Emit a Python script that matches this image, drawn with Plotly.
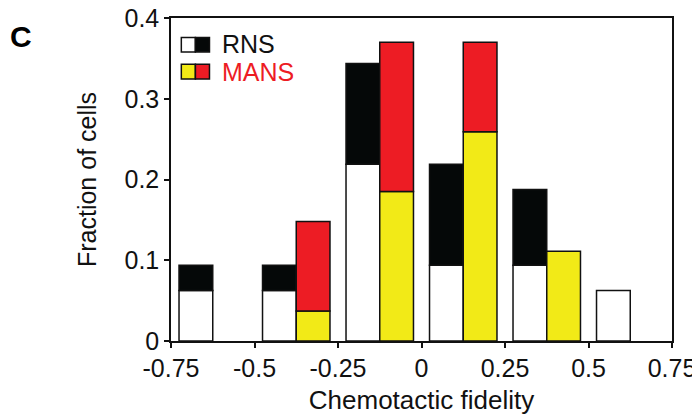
import plotly.graph_objects as go

# Bin centres of chemotactic fidelity histogram
bin_centers = [-0.625, -0.375, -0.125, 0.125, 0.375, 0.625]

# RNS: white (bottom) and black (top) segments
rns_bottom = [0.0625, 0.0625, 0.21875, 0.09375, 0.09375, 0.0625]
rns_top = [0.03125, 0.03125, 0.125, 0.125, 0.09375, 0.0]

# MANS: yellow (bottom) and red (top) segments
mans_bottom = [0.0, 0.037, 0.185, 0.259, 0.111, 0.0]
mans_top = [0.0, 0.111, 0.185, 0.111, 0.0, 0.0]

x_tickvals = [-0.75, -0.5, -0.25, 0, 0.25, 0.5, 0.75]
x_ticktext = ["-0.75", "-0.5", "-0.25", "0", "0.25", "0.5", "0.75"]
y_tickvals = [0, 0.1, 0.2, 0.3, 0.4]
y_ticktext = ["0", "0.1", "0.2", "0.3", "0.4"]

WHITE = "#FFFFFF"
BLACK = "#050808"
YELLOW = "#F2EA17"
RED = "#ED1C24"
FONT = "Liberation Sans, Arial, sans-serif"

line = dict(color="#111111", width=1.5)


def nz(vals):
    return [v if v else None for v in vals]


fig = go.Figure()
fig.add_trace(go.Bar(x=bin_centers, y=nz(rns_bottom), offsetgroup="RNS",
                     marker=dict(color=WHITE, line=line), showlegend=False))
fig.add_trace(go.Bar(x=bin_centers, y=nz(rns_top), base=rns_bottom, offsetgroup="RNS",
                     marker=dict(color=BLACK, line=line), showlegend=False))
fig.add_trace(go.Bar(x=bin_centers, y=nz(mans_bottom), offsetgroup="MANS",
                     marker=dict(color=YELLOW, line=line), showlegend=False))
fig.add_trace(go.Bar(x=bin_centers, y=nz(mans_top), base=mans_bottom, offsetgroup="MANS",
                     marker=dict(color=RED, line=line), showlegend=False))

# Custom legend swatches (paper coordinates)
sw = dict(type="rect", xref="paper", yref="paper", line=dict(color="#111111", width=1.5))
fig.add_shape(**sw, x0=0.0206, x1=0.0487, y0=0.895, y1=0.940, fillcolor=WHITE)
fig.add_shape(**sw, x0=0.0487, x1=0.0768, y0=0.895, y1=0.940, fillcolor=BLACK)
fig.add_shape(**sw, x0=0.0206, x1=0.0487, y0=0.811, y1=0.857, fillcolor=YELLOW)
fig.add_shape(**sw, x0=0.0487, x1=0.0768, y0=0.811, y1=0.857, fillcolor=RED)

fig.add_annotation(x=0.0988, y=0.918, xref="paper", yref="paper", text="RNS",
                   showarrow=False, xanchor="left", yanchor="middle",
                   font=dict(family=FONT, size=25, color="#111111"))
fig.add_annotation(x=0.0988, y=0.834, xref="paper", yref="paper", text="MANS",
                   showarrow=False, xanchor="left", yanchor="middle",
                   font=dict(family=FONT, size=25, color=RED))

# Panel letter
fig.add_annotation(x=-0.325, y=0.942, xref="paper", yref="paper", text="<b>C</b>",
                   showarrow=False, xanchor="left", yanchor="middle",
                   font=dict(family=FONT, size=30, color="#000000"))

fig.update_layout(
    width=700, height=415,
    margin=dict(l=163, r=36, t=10, b=82, autoexpand=False),
    paper_bgcolor="white", plot_bgcolor="white",
    barmode="group", bargap=0.192, bargroupgap=0,
    font=dict(family=FONT, size=25, color="#111111"),
    hovermode=False,
)
fig.update_xaxes(
    range=[-0.75, 0.75], tickvals=x_tickvals, ticktext=x_ticktext, automargin=False,
    showgrid=False, zeroline=False, showline=True, linecolor="#111111", linewidth=1.5,
    mirror=True, ticks="outside", ticklen=5, tickwidth=1.5, tickcolor="#111111",
    ticklabelstandoff=-1, ticklabeloverflow="allow",
    title=dict(text="Chemotactic fidelity", standoff=10, font=dict(size=26)),
    tickfont=dict(size=25),
)
fig.update_yaxes(
    range=[0, 0.4], tickvals=y_tickvals, ticktext=y_ticktext, automargin=False,
    showgrid=False, zeroline=False, showline=True, linecolor="#111111", linewidth=1.5,
    mirror=True, ticks="outside", ticklen=5, tickwidth=1.5, tickcolor="#111111",
    ticklabelstandoff=0, ticklabeloverflow="allow",
    title=dict(text="Fraction of cells", standoff=21, font=dict(size=25)),
    tickfont=dict(size=25),
)

fig.write_html("out.html")
